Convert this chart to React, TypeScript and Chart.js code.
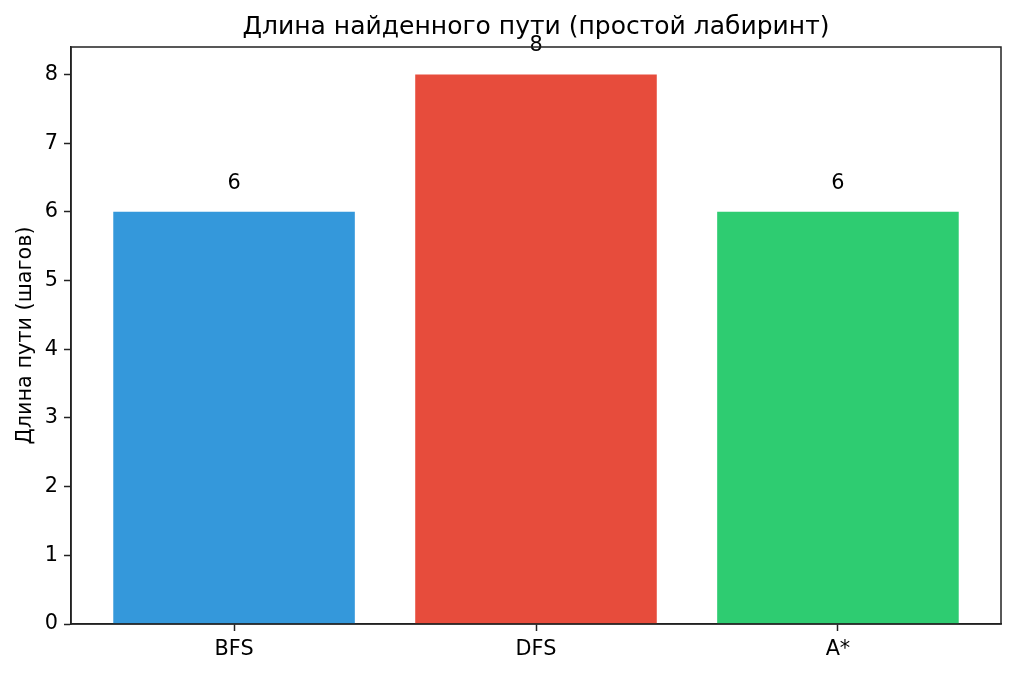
import React, { useEffect, useRef } from "react";
import { Chart, registerables } from "chart.js";

Chart.register(...registerables);

// chart data
const chartTitle = "Длина найденного пути (простой лабиринт)";
const yLabel = "Длина пути (шагов)";
const algorithms = ["BFS", "DFS", "A*"];
const pathLengths = [6, 8, 6];
const barColors = ["#3498db", "#e74c3c", "#2ecc71"];
const yTicks = [0, 1, 2, 3, 4, 5, 6, 7, 8];
const xTicks = [0, 1, 2];

const FONT = "'DejaVu Sans', 'Noto Sans', sans-serif";
const AXIS_COLOR = "#222";

// value labels above the bars, title over the axes, top/right frame
const barLabels = {
    id: "barLabels",
    afterDatasetsDraw(chart: any) {
        const { ctx, scales, chartArea } = chart;
        ctx.save();
        ctx.fillStyle = "#000";
        ctx.font = `20.8px ${FONT}`;
        ctx.textAlign = "center";
        ctx.textBaseline = "alphabetic";
        pathLengths.forEach((v, i) => {
            const x = scales.x.getPixelForValue(i);
            const y = scales.y.getPixelForValue(v + 0.34);
            ctx.fillText(String(v), x, y);
        });

        ctx.font = `25px ${FONT}`;
        ctx.textBaseline = "middle";
        ctx.fillText(chartTitle, (chartArea.left + chartArea.right) / 2, 27);

        ctx.strokeStyle = AXIS_COLOR;
        ctx.lineWidth = 1.5;
        ctx.strokeRect(chartArea.left, chartArea.top, chartArea.right - chartArea.left, chartArea.bottom - chartArea.top);
        ctx.restore();
    },
};

export default function App() {
    const canvasRef = useRef<HTMLCanvasElement | null>(null);
    const chartRef = useRef<Chart | null>(null);

    useEffect(() => {
        if (!canvasRef.current) return;
        const ctx = canvasRef.current.getContext("2d");
        if (!ctx) return;

        if (chartRef.current) {
            chartRef.current.destroy();
        }

        Chart.defaults.color = "#000";
        Chart.defaults.font.family = FONT;

        chartRef.current = new Chart(ctx, {
            type: "bar",
            data: {
                datasets: [
                    {
                        data: pathLengths.map((v, i) => ({ x: i, y: v })),
                        backgroundColor: barColors,
                        borderWidth: 0,
                        barPercentage: 0.8,
                        categoryPercentage: 1,
                    },
                ],
            },
            options: {
                responsive: false,
                animation: false,
                layout: { padding: { left: 0, right: 15, top: 47, bottom: 0 } },
                plugins: {
                    legend: { display: false },
                    tooltip: { enabled: false },
                    title: { display: false },
                },
                scales: {
                    x: {
                        type: "linear",
                        min: -0.54,
                        max: 2.54,
                        offset: false,
                        afterBuildTicks: (scale: any) => {
                            scale.ticks = xTicks.map((value) => ({ value }));
                        },
                        afterFit: (scale: any) => {
                            scale.height = 50;
                        },
                        ticks: {
                            color: "#000",
                            font: { size: 20.8 },
                            padding: 6,
                            maxRotation: 0,
                            callback: (value: any) => algorithms[value] ?? "",
                        },
                        grid: {
                            display: true,
                            offset: false,
                            drawOnChartArea: false,
                            drawTicks: true,
                            tickLength: 7,
                            tickWidth: 1.5,
                            tickColor: AXIS_COLOR,
                        },
                        border: { display: true, color: AXIS_COLOR, width: 1.5 },
                    },
                    y: {
                        min: 0,
                        max: 8.4,
                        afterBuildTicks: (scale: any) => {
                            scale.ticks = yTicks.map((value) => ({ value }));
                        },
                        afterFit: (scale: any) => {
                            scale.width = 71;
                        },
                        ticks: {
                            color: "#000",
                            font: { size: 20.8 },
                            padding: 6,
                        },
                        title: {
                            display: true,
                            text: yLabel,
                            color: "#000",
                            font: { size: 20.8 },
                            padding: { top: 13, bottom: 0 },
                        },
                        grid: {
                            display: true,
                            drawOnChartArea: false,
                            drawTicks: true,
                            tickLength: 7,
                            tickWidth: 1.5,
                            tickColor: AXIS_COLOR,
                        },
                        border: { display: true, color: AXIS_COLOR, width: 1.5 },
                    },
                },
            },
            plugins: [barLabels],
        });

        return () => {
            chartRef.current?.destroy();
        };
    }, []);

    return (
        <div style={{ position: "fixed", left: 0, top: 0, width: 1016, height: 674, background: "#fff" }}>
            <canvas ref={canvasRef} width={1016} height={674} style={{ display: "block" }}></canvas>
        </div>
    );
}
